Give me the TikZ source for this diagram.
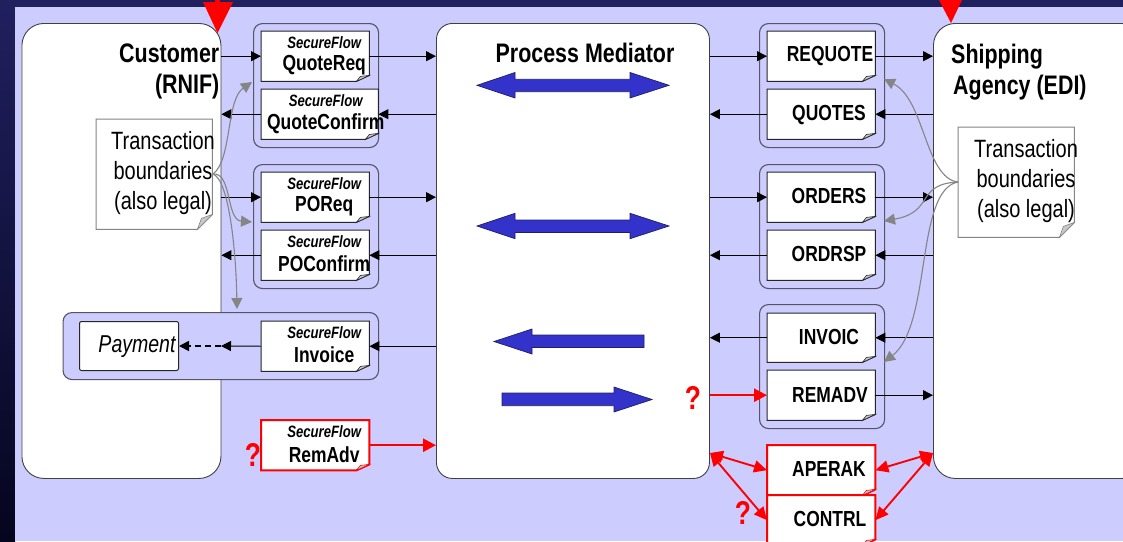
\documentclass[tikz,border=0pt]{standalone}
\usepackage{fontspec}
\setmainfont[Scale=1]{Liberation Sans}
\newfontfamily\narrowf[FakeStretch=0.8]{Liberation Sans}
\usetikzlibrary{arrows.meta,calc,shapes.arrows}
\definecolor{panel}{HTML}{CCCCFF}
\definecolor{navytop}{HTML}{20205F}
\definecolor{navybot}{HTML}{05051F}
\definecolor{blueA}{HTML}{3333CC}
\definecolor{edge}{HTML}{555566}
\definecolor{arrowgray}{HTML}{858585}
\definecolor{foldgray}{HTML}{C8C8C8}
\tikzset{
  lane/.style={draw=black!75,fill=white,line width=0.9pt,rounded corners=#1,anchor=north west,inner sep=0pt},
  grp/.style={draw=edge,fill=panel,line width=1.1pt,rounded corners=9pt,anchor=north west,inner sep=0pt},
  conn/.style={line width=0.9pt,black,-{Triangle[length=10pt,width=10pt]}},
  dconn/.style={line width=1.7pt,black,dashed,dash pattern=on 6pt off 4pt,-{Triangle[length=10pt,width=10pt]}},
  rconn/.style={line width=2.5pt,red,-{Triangle[length=13pt,width=13pt]}},
  rdbl/.style={line width=1.9pt,red,{Triangle[length=13pt,width=12pt]}-{Triangle[length=13pt,width=12pt]}},
  gconn/.style={line width=1.1pt,arrowgray,-{Triangle[length=11pt,width=11pt]}},
  docbox/.style={minimum width=#1,minimum height=50pt,inner sep=0pt,anchor=north west},
  docbox/.default=108pt,
  notebox/.style={minimum width=116pt,minimum height=110pt,inner sep=0pt,anchor=north west},
  sf/.style={font=\narrowf\bfseries\itshape\fontsize{16.4}{16.4}\selectfont,black,inner sep=0pt},
  dl/.style={font=\narrowf\bfseries\fontsize{21.8}{21.8}\selectfont,black,inner sep=0pt},
  ttl/.style={font=\narrowf\bfseries\fontsize{26.8}{31}\selectfont,black,inner sep=0pt},
  ntxt/.style={font=\narrowf\fontsize{25}{30}\selectfont,black,inner sep=0pt},
  qm/.style={font=\narrowf\bfseries\fontsize{33}{33}\selectfont,red,inner sep=0pt},
  bluearrow/.style={fill=blueA,draw=navytop,line width=0.7pt},
}
% folded document outline on a named node: #1 node, #2 colour, #3 line width
\newcommand{\docshape}[3]{%
  \path[draw=#2,fill=white,line width=#3]
    (#1.north west) -- (#1.north east) -- ($(#1.south east)+(0,-6)$)
    -- ($(#1.south east)+(-13,0)$) -- (#1.south west) -- cycle;
  \path[draw=#2,fill=foldgray,line width=0.6pt]
    ($(#1.south east)+(0,-6)$) -- ($(#1.south east)+(-13,0)$) -- ($(#1.south east)+(-9,-5)$) -- cycle;
}
\begin{document}
\begin{tikzpicture}[x=1pt,y=-1pt]
\useasboundingbox (0,0) rectangle (1123,541);
\begin{scope}
\clip (0,0) rectangle (1123,541);
\shade[top color=navytop,bottom color=navybot] (0,0) rectangle (15,541);
\fill[navytop] (15,0) rectangle (1123,7);
\fill[panel] (15,7) rectangle (1123,541);

% lanes
\node[lane=22pt,minimum width=199pt,minimum height=455pt] (cust) at (21.5,23) {};
\node[lane=16pt,minimum width=273pt,minimum height=455pt] (med) at (436,23) {};
\node[lane=22pt,minimum width=210pt,minimum height=455pt] (ship) at (933,23) {};

% red pointers
\fill[red] (203,2) -- (233,2) -- (217.5,33) -- cycle;
\fill[red] (215,0) rectangle (220,3);
\fill[red] (939,0) -- (962,0) -- (951,23) -- cycle;

% groups
\node[grp,minimum width=125pt,minimum height=124pt] (g1) at (253,23) {};
\node[grp,minimum width=125pt,minimum height=124pt] (g2) at (253,164) {};
\node[grp,minimum width=315.5pt,minimum height=67pt] (g3) at (62.5,312) {};
\node[grp,minimum width=125pt,minimum height=124pt] (g4) at (759,23) {};
\node[grp,minimum width=125pt,minimum height=124pt] (g5) at (759,164) {};
\node[grp,minimum width=125pt,minimum height=124pt] (g6) at (759,304) {};

% documents, left
\node[docbox] (quotereq) at (261,31) {};
\node[docbox=117pt] (quoteconf) at (261,89) {};
\node[docbox] (poreq) at (261,172) {};
\node[docbox] (poconf) at (261,230) {};
\node[docbox] (invoice) at (261,321) {};
\node[docbox] (remadv) at (261,420) {};
% documents, right
\node[docbox] (requote) at (767,31) {};
\node[docbox] (quotes) at (767,89) {};
\node[docbox] (orders) at (767,172) {};
\node[docbox] (ordrsp) at (767,230) {};
\node[docbox,minimum height=49pt] (invoic) at (767,313) {};
\node[docbox] (remadvr) at (767,370) {};
\node[docbox] (aperak) at (767,445) {};
\node[docbox] (contrl) at (767,495) {};
\foreach \n in {quotereq,quoteconf,poreq,poconf,invoice,requote,quotes,orders,ordrsp,invoic,remadvr}{\docshape{\n}{black!85}{1pt}}
\docshape{remadv}{red}{2pt}
\docshape{aperak}{red}{2pt}
\docshape{contrl}{red}{2pt}
\node[draw=black!85,fill=white,rounded corners=2pt,line width=1pt,minimum width=99pt,minimum height=49pt,inner sep=0pt,anchor=north west] (payment) at (79,321) {};

% notes
\node[notebox] (noteL) at (96,119) {};
\node[notebox] (noteR) at (958,127) {};
\foreach \n in {noteL,noteR}{
  \path[draw=arrowgray,fill=white,line width=1pt]
    (\n.north west) -- (\n.north east) -- ($(\n.south east)+(0,-15)$) -- ($(\n.south east)+(-15,0)$) -- (\n.south west) -- cycle;
  \path[draw=arrowgray,fill=foldgray,line width=0.6pt]
    ($(\n.south east)+(0,-15)$) -- ($(\n.south east)+(-15,0)$) -- ($(\n.south east)+(-11,-11)$) -- cycle;
}
\coordinate (nL) at (213,174);
\coordinate (nR) at (958,182);

% black connectors
\draw[conn] (cust.east |- quotereq.west) -- (quotereq.west);
\draw[conn] (quotereq.east) -- (med.west |- quotereq.east);
\draw[conn] (med.west |- quoteconf.east) -- (quoteconf.east);
\draw[conn] (quoteconf.west) -- (cust.east |- quoteconf.west);
\draw[conn] (cust.east |- poreq.west) -- (poreq.west);
\draw[conn] (poreq.east) -- (med.west |- poreq.east);
\draw[conn] (med.west |- poconf.east) -- (poconf.east);
\draw[conn] (poconf.west) -- (cust.east |- poconf.west);
\draw[conn] (med.west |- invoice.east) -- (invoice.east);
\coordinate (payj) at (221,346);
\draw[conn] (invoice.west) -- (payj);
\draw[dconn] (payj) -- (payment.east);
\draw[conn] (med.east |- requote.west) -- (requote.west);
\draw[conn] (requote.east) -- (ship.west |- requote.east);
\draw[conn] (ship.west |- quotes.east) -- (quotes.east);
\draw[conn] (quotes.west) -- (med.east |- quotes.west);
\draw[conn] (med.east |- orders.west) -- (orders.west);
\draw[conn] (orders.east) -- (ship.west |- orders.east);
\draw[conn] (ship.west |- ordrsp.east) -- (ordrsp.east);
\draw[conn] (ordrsp.west) -- (med.east |- ordrsp.west);
\draw[conn] (ship.west |- invoic.east) -- (invoic.east);
\draw[conn] (invoic.west) -- (med.east |- invoic.west);
\draw[conn] (remadvr.east) -- (ship.west |- remadvr.east);

% red connectors
\draw[rconn] (remadv.east) -- (med.west |- remadv.east);
\draw[rconn] (med.east |- remadvr.west) -- (remadvr.west);
\coordinate (mj) at (710,453);
\coordinate (sj) at (933,453);
\draw[rdbl] (mj) -- (aperak.west);
\draw[rdbl] (mj) -- (contrl.west);
\draw[rdbl] (sj) -- (aperak.east);
\draw[rdbl] (sj) -- (contrl.east);

% grey callouts
\coordinate (g1t) at (252,82);
\coordinate (g2t) at (252,222);
\coordinate (g3t) at (237,309);
\coordinate (g4t) at (884,79);
\coordinate (g5t) at (884,221);
\coordinate (g6t) at (884,362);
\draw[gconn] (nL) .. controls (232,160) and (226,100) .. (g1t);
\draw[gconn] (nL) .. controls (232,172) and (226,220) .. (g2t);
\draw[gconn] (nL) .. controls (229,180) and (236,250) .. (g3t);
\draw[gconn] (nR) .. controls (925,178) and (925,100) .. (g4t);
\draw[gconn] (nR) .. controls (915,184) and (935,212) .. (g5t);
\draw[gconn] (nR) .. controls (915,190) and (932,325) .. (g6t);

% blue arrows
\draw[bluearrow] (477,85.3) -- (515,72.5) -- (515,79.3) -- (630,79.3) -- (630,72.5) -- (669,85.3) -- (630,98) -- (630,91.7) -- (515,91.7) -- (515,98) -- cycle;
\draw[bluearrow] (477,226) -- (515,213.3) -- (515,220) -- (630,220) -- (630,213.3) -- (669,226) -- (630,238.7) -- (630,232.4) -- (515,232.4) -- (515,238.7) -- cycle;
\draw[bluearrow] (494,341.5) -- (532,329) -- (532,335) -- (644,335) -- (644,347.5) -- (532,347.5) -- (532,354) -- cycle;
\draw[bluearrow] (652,399.5) -- (614,387) -- (614,393) -- (502,393) -- (502,405.7) -- (614,405.7) -- (614,412) -- cycle;

% texts
\node[ttl,align=right,anchor=north east] (tcust) at (219.5,43.5) {Customer\\(RNIF)};
\node[ttl] (tmed) at (585,53) {Process Mediator};
\node[ttl,align=left,anchor=north west] (tship) at (951,43.5) {Shipping\\\hspace*{2pt}Agency (EDI)};

\foreach \n/\t in {quotereq/QuoteReq,poreq/POReq,poconf/POConfirm,invoice/Invoice,remadv/RemAdv}{
  \node[sf] at ($(\n.center)+(9,-14)$) {SecureFlow};
  \node[dl] at ($(\n.center)+(9,9)$) {\t};
}
\node[sf] at ($(quoteconf.center)+(6,-14)$) {SecureFlow};
\node[dl] at ($(quoteconf.center)+(6,9.5)$) {QuoteConfirm};
\node[dl] at (830,56.5) {REQUOTE};
\node[dl] at (829,115) {QUOTES};
\node[dl] at (829,196) {ORDERS};
\node[dl] at (829,254) {ORDRSP};
\node[dl] at (829,337) {INVOIC};
\node[dl] at (830,395) {REMADV};
\node[dl] at (829,469) {APERAK};
\node[dl] at (830,519) {CONTRL};
\node[font=\narrowf\itshape\fontsize{24.4}{24.4}\selectfont,inner sep=0pt] at (137,347) {Payment};
\node[ntxt,align=center] at (163,173) {Transaction\\boundaries\\(also legal)};
\node[ntxt,align=center] at (1026,181) {Transaction\\boundaries\\(also legal)};
\node[qm] at (693,398) {?};
\node[qm] at (253,455) {?};
\node[qm] at (743,513) {?};
\end{scope}
\end{tikzpicture}
\end{document}
